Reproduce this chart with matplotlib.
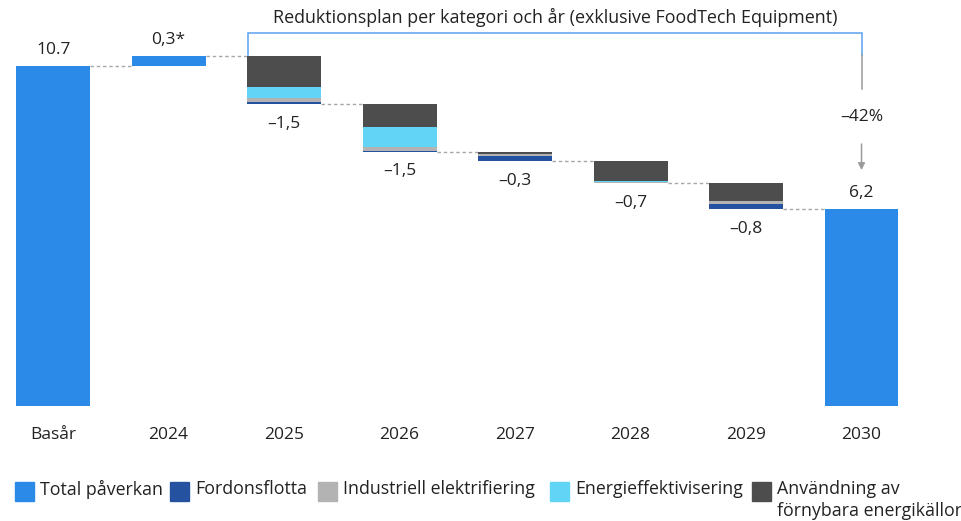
import matplotlib
matplotlib.use("Agg")
import matplotlib.pyplot as plt
from matplotlib.patches import Rectangle

plt.rcParams["font.family"] = ["Open Sans", "DejaVu Sans"]

# Categories and values
categories = ["Basår", "2024", "2025", "2026", "2027", "2028", "2029", "2030"]
base_value = 10.7
change_2024 = 0.3
final_value = 6.2
reduction_years = ["2025", "2026", "2027", "2028", "2029"]
fordonsflotta = [0.05, 0.03, 0.16, 0.02, 0.15]
industriell = [0.13, 0.12, 0.08, 0.04, 0.09]
energieffektivisering = [0.36, 0.63, 0.00, 0.03, 0.00]
fornybara = [0.96, 0.72, 0.06, 0.61, 0.56]
reduction_labels = ["–1,5", "–1,5", "–0,3", "–0,7", "–0,8"]
base_label = "10.7"
change_2024_label = "0,3*"
final_label = "6,2"
pct_label = "–42%"
title = "Reduktionsplan per kategori och år (exklusive FoodTech Equipment)"
legend_labels = ["Total påverkan", "Fordonsflotta", "Industriell elektrifiering",
                 "Energieffektivisering", "Användning av\nförnybara energikällor"]

C_TOTAL = "#2B8AE8"
C_FORDON = "#2452A0"
C_IND = "#B3B3B3"
C_EFF = "#62D5F7"
C_FORN = "#4D4D4D"
C_TEXT = "#222222"
C_CONN = "#A8A8A8"
legend_colors = [C_TOTAL, C_FORDON, C_IND, C_EFF, C_FORN]

fig = plt.figure(figsize=(9.62, 5.21), dpi=100)
ax = fig.add_axes([0, 0.2207, 1, 0.7793])
ax.set_xlim(-0.46, 7.87)
ax.set_ylim(0, 12.77)
for s in ax.spines.values():
    s.set_visible(False)
ax.set_yticks([])
ax.set_xticks(range(len(categories)))
ax.set_xticklabels(categories, fontsize=12.5, color=C_TEXT)
ax.tick_params(axis="x", length=0, pad=15)

w = 0.64
fs = 12.5

# Base year and 2024 change
ax.bar(0, base_value, width=w, color=C_TOTAL)
ax.text(0, base_value + 0.25, base_label, ha="center", va="bottom", fontsize=fs, color=C_TEXT)
ax.bar(1, change_2024, bottom=base_value, width=w, color=C_TOTAL)
level = base_value + change_2024
ax.text(1, level + 0.25, change_2024_label, ha="center", va="bottom", fontsize=fs, color=C_TEXT)

def connector(x0, x1, y):
    ax.plot([x0 + w / 2, x1 - w / 2], [y, y], color=C_CONN, lw=1,
            linestyle=(0, (2.5, 2)), zorder=1)

connector(0, 1, base_value)
connector(1, 2, level)

# Stacked reductions per year
for i, yr in enumerate(reduction_years):
    x = categories.index(yr)
    total = fordonsflotta[i] + industriell[i] + energieffektivisering[i] + fornybara[i]
    bottom = level - total
    b = bottom
    for vals, col in [(fordonsflotta, C_FORDON), (industriell, C_IND),
                      (energieffektivisering, C_EFF), (fornybara, C_FORN)]:
        v = vals[i]
        if v > 0:
            ax.bar(x, v, bottom=b, width=w, color=col, linewidth=0)
        b += v
    ax.text(x, bottom - 0.62, reduction_labels[i], ha="center", va="center",
            fontsize=fs, color=C_TEXT)
    level = bottom
    connector(x, x + 1, level)

# Final year
ax.bar(7, final_value, width=w, color=C_TOTAL)
ax.text(7, final_value + 0.25, final_label, ha="center", va="bottom", fontsize=fs, color=C_TEXT)

# Bracket with title and percentage change
top_y = 11.73
left_x = 2 - w / 2 + 0.01
ax.plot([left_x, left_x, 7, 7], [11.05, top_y, top_y, 11.04],
        color="#5AA2F0", lw=1.1, solid_joinstyle="miter")
ax.plot([7, 7], [11.04, 9.97], color="#9A9A9A", lw=1.1)
ax.text((left_x + 7) / 2, top_y + 0.2, title, ha="center", va="bottom",
        fontsize=12.9, color=C_TEXT)
ax.text(7, 9.09, pct_label, ha="center", va="center", fontsize=fs, color=C_TEXT)
ax.annotate("", xy=(7, 7.42), xytext=(7, 8.24),
            arrowprops=dict(arrowstyle="-|>", color="#9A9A9A", lw=1.1,
                            mutation_scale=10, shrinkA=0, shrinkB=0))

# Legend row: colour squares with labels, first text line aligned to squares
W, H = fig.get_size_inches() * fig.dpi
legend_x = [15, 170, 318, 550, 752]
sq = 19
row_y = 491
for xpx, col, lab in zip(legend_x, legend_colors, legend_labels):
    fig.patches.append(Rectangle((xpx / W, (H - row_y - sq / 2) / H), sq / W, sq / H,
                                 transform=fig.transFigure, color=col))
    fig.text((xpx + sq + 6) / W, (H - row_y + 11) / H, lab, ha="left", va="top",
             fontsize=12.8, color=C_TEXT, linespacing=1.3)

fig.savefig("out.png", dpi=100)
